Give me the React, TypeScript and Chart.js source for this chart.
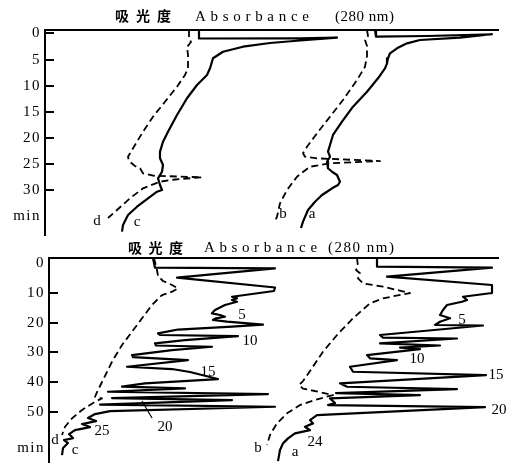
import React, { useEffect, useRef } from 'react';
import { Chart, registerables } from 'chart.js';

Chart.register(...registerables);
Chart.defaults.font.family = '"Liberation Serif", "DejaVu Serif", serif';

// ---------- Upper run (time axis in min, absorbance in arbitrary offset units) ----------
const TOP_TIME_TICKS = [0, 5, 10, 15, 20, 25, 30, 35];
const TOP_UNIT_TICK = 35; // labelled "min"

const TOP_C_ABS = [1.99, 1.99, 3.0, 3.37, 3.0, 2.7, 2.43, 2.23, 2.13, 2.1, 2.07, 1.97, 1.87, 1.77, 1.68, 1.63, 1.6, 1.6, 1.63, 1.62, 1.58, 1.6, 1.62, 1.57, 1.48, 1.37, 1.28, 1.23, 1.22];
const TOP_C_MIN = [-0.67, 0.96, 0.92, 0.8, 1.34, 1.82, 2.53, 3.49, 4.75, 6.67, 7.95, 9.87, 12.41, 15.61, 18.81, 20.73, 22.64, 23.91, 25.19, 26.48, 27.74, 29.02, 29.98, 30.31, 31.57, 33.18, 34.77, 36.69, 37.97];

const TOP_D_ABS = [1.89, 1.89, 1.91, 1.87, 1.88, 1.88, 1.85, 1.77, 1.65, 1.53, 1.43, 1.35, 1.28, 1.29, 1.35, 1.4, 1.43, 1.53, 2.02, 1.75, 1.6, 1.43, 1.3, 1.17, 1.08];
const TOP_D_MIN = [-0.67, 0.86, 1.63, 2.59, 4.12, 6.67, 7.95, 10.19, 13.07, 15.94, 18.81, 21.36, 23.6, 24.43, 25.38, 25.82, 26.78, 27.24, 27.55, 27.97, 28.39, 29.66, 31.57, 33.81, 35.34];

const TOP_A_ABS = [3.75, 3.76, 4.27, 4.92, 4.6, 4.2, 4.07, 3.97, 3.9, 3.88, 3.87, 3.85, 3.78, 3.67, 3.53, 3.42, 3.33, 3.3, 3.28, 3.3, 3.27, 3.28, 3.32, 3.37, 3.4, 3.38, 3.32, 3.27, 3.22, 3.15, 3.08, 3.03, 3.01];
const TOP_A_MIN = [-0.67, 0.61, 0.48, 0.15, 0.8, 1.25, 1.88, 2.84, 3.79, 4.75, 5.71, 6.67, 8.58, 11.15, 14.02, 16.9, 19.44, 21.36, 22.64, 23.6, 24.56, 25.82, 26.48, 27.11, 28.39, 29.02, 29.66, 30.31, 30.94, 32.22, 33.81, 36.05, 37.26];

const TOP_B_ABS = [3.67, 3.68, 3.65, 3.67, 3.67, 3.65, 3.57, 3.43, 3.3, 3.17, 3.07, 3.03, 3.05, 3.17, 3.8, 3.3, 3.1, 2.97, 2.87, 2.8, 2.77, 2.75];
const TOP_B_MIN = [-0.67, 0.48, 1.25, 2.39, 4.31, 6.36, 8.91, 12.74, 15.94, 19.12, 21.69, 22.95, 23.6, 23.91, 24.43, 24.87, 25.52, 27.43, 29.98, 32.53, 35.1, 35.92];

const TOP_LABEL_TEXT = ['d', 'c', 'b', 'a'];
const TOP_LABEL_ABS = [0.97, 1.37, 2.83, 3.12];
const TOP_LABEL_MIN = [35.92, 36.1, 34.58, 34.58];

// ---------- Lower run ----------
const BOT_TIME_TICKS = [0, 10, 20, 30, 40, 50, 62];
const BOT_UNIT_TICK = 62; // labelled "min"

const BOT_C_ABS = [1.53, 1.55, 2.75, 1.77, 2.75, 2.74, 2.32, 2.37, 2.32, 2.37, 2.25, 2.15, 2.12, 2.2, 2.25, 2.16, 2.13, 2.27, 2.63, 2.32, 1.78, 1.58, 1.6, 2.38, 1.85, 1.55, 1.56, 2.12, 1.72, 1.32, 1.33, 1.88, 1.27, 1.72, 1.9, 2.18, 1.45, 1.22, 1.85, 1.08, 2.68, 1.12, 2.32, 1.0, 2.75, 1.1, 0.95, 0.88, 0.96, 0.82, 0.9, 0.75, 0.69, 0.73, 0.64, 0.68, 0.63, 0.62];
const BOT_C_MIN = [-1.75, 1.51, 1.71, 4.87, 8.17, 9.34, 11.26, 11.8, 12.37, 12.94, 14.05, 15.73, 16.84, 17.41, 17.98, 18.52, 19.09, 19.66, 20.61, 21.34, 22.29, 23.56, 24.13, 24.47, 25.82, 26.92, 27.66, 28.07, 29.18, 30.86, 31.53, 32.54, 34.79, 35.56, 36.57, 38.92, 40.37, 41.45, 42.05, 43.19, 43.97, 45.31, 45.98, 47.49, 48.24, 49.68, 50.69, 52.03, 53.04, 54.05, 55.06, 56.07, 57.41, 58.76, 59.43, 60.44, 62.12, 64.47];

const BOT_D_ABS = [1.54, 1.57, 1.58, 1.63, 1.72, 1.78, 1.72, 1.62, 1.52, 1.42, 1.32, 1.22, 1.12, 1.04, 0.97, 0.95, 1.02, 0.95, 0.82, 0.72, 0.65, 0.62];
const BOT_D_MIN = [-1.75, 2.29, 4.3, 5.98, 7.33, 8.44, 9.58, 10.69, 14.05, 18.52, 23.03, 27.5, 33.11, 38.59, 43.29, 44.87, 45.41, 46.55, 49.34, 52.13, 54.96, 57.75];

const BOT_A_ABS = [3.77, 3.77, 4.92, 3.87, 4.92, 4.92, 4.63, 4.67, 4.62, 4.47, 4.43, 4.4, 4.5, 4.4, 4.35, 4.83, 3.8, 3.83, 4.57, 3.8, 4.4, 4.0, 4.2, 3.67, 3.7, 3.97, 3.5, 3.53, 4.86, 3.4, 3.47, 4.57, 3.36, 4.2, 3.3, 3.35, 3.28, 4.85, 3.17, 3.1, 3.13, 3.05, 3.1, 2.95, 2.88, 2.83, 2.8, 2.78];
const BOT_A_MIN = [-1.75, 1.18, 1.5, 4.54, 7.33, 10.02, 11.26, 12.37, 12.94, 14.05, 15.73, 17.41, 18.52, 19.66, 20.77, 20.94, 24.13, 25.0, 25.3, 26.92, 27.66, 28.34, 28.84, 30.86, 31.97, 32.54, 34.79, 36.47, 37.58, 40.37, 41.51, 42.29, 43.63, 44.3, 45.41, 46.99, 47.66, 48.34, 51.03, 52.71, 53.82, 54.96, 56.07, 57.18, 58.86, 60.54, 62.79, 66.49];

const BOT_B_ABS = [3.57, 3.58, 3.56, 3.6, 3.58, 3.63, 3.83, 4.1, 3.83, 3.7, 3.53, 3.37, 3.23, 3.12, 3.03, 2.99, 3.03, 3.18, 3.33, 3.18, 3.0, 2.87, 2.77, 2.7, 2.67];
const BOT_B_MIN = [-1.75, 1.18, 2.29, 3.39, 5.08, 6.76, 7.9, 10.02, 11.8, 13.48, 18.52, 24.13, 29.75, 35.23, 39.6, 40.94, 42.12, 43.19, 44.3, 45.65, 47.66, 50.45, 53.81, 57.75, 61.11];

// leader line from the "20" label to its peak (left run)
const BOT_LEADER_ABS = [1.52, 1.42];
const BOT_LEADER_MIN = [52.03, 46.32];

const BOT_LABEL_TEXT = ['5', '10', '15', '20', '25', 'd', 'c', '5', '10', '15', '20', '24', 'a', 'b'];
const BOT_LABEL_ABS = [2.42, 2.5, 2.08, 1.65, 1.02, 0.55, 0.75, 4.62, 4.17, 4.96, 4.99, 3.15, 2.95, 2.58];
const BOT_LABEL_MIN = [17.41, 26.15, 36.47, 54.96, 56.4, 59.43, 62.79, 19.09, 32.2, 37.58, 49.34, 60.0, 63.36, 62.22];

const TITLE_CN = '吸光度';
const TITLE_EN = 'Absorbance';
const TITLE_NM = '(280 nm)';

const SERIF = '"Liberation Serif", "DejaVu Serif", serif';
const CJK = '"Noto Sans CJK SC", sans-serif';

function trace(abs: number[], mins: number[], dashed: boolean, width: number) {
  return {
    data: abs.map((a, i) => ({ x: a, y: mins[i] })),
    showLine: true,
    borderColor: '#000',
    backgroundColor: '#000',
    borderWidth: width,
    borderDash: dashed ? [7, 4] : [],
    borderJoinStyle: 'round',
    borderCapStyle: 'butt',
    pointRadius: 0,
    pointHoverRadius: 0,
    tension: 0,
    fill: false,
  };
}

type TitlePart = { text: string; x: number; y: number; font: string; spacing: number };

function textPlugin(titles: TitlePart[], texts: string[], abs: number[], mins: number[]) {
  return {
    id: 'panelText',
    beforeDraw(chart: any) {
      chart.ctx.letterSpacing = '1.5px';
    },
    afterDraw(chart: any) {
      const ctx = chart.ctx;
      ctx.save();
      ctx.fillStyle = '#000';
      ctx.textBaseline = 'middle';
      ctx.textAlign = 'left';
      for (const t of titles) {
        ctx.font = t.font;
        ctx.letterSpacing = t.spacing + 'px';
        ctx.fillText(t.text, t.x, t.y);
      }
      ctx.letterSpacing = '0px';
      ctx.textAlign = 'center';
      ctx.font = '15px ' + SERIF;
      const xs = chart.scales.x;
      const ys = chart.scales.y;
      texts.forEach((s, i) => {
        ctx.fillText(s, xs.getPixelForValue(abs[i]), ys.getPixelForValue(mins[i]));
      });
      ctx.restore();
      ctx.letterSpacing = '0px';
    },
  };
}

function makeOptions(p: {
  xMin: number; xMax: number; yMin: number; yMax: number;
  ticks: number[]; unitTick: number; noMark: number[]; axisWidth: number;
  padding: { top: number; right: number; bottom: number; left: number };
}) {
  return {
    animation: false,
    responsive: false,
    events: [],
    layout: { padding: p.padding },
    plugins: { legend: { display: false }, tooltip: { enabled: false }, title: { display: false } },
    scales: {
      x: {
        type: 'linear',
        position: 'top',
        min: p.xMin,
        max: p.xMax,
        ticks: { display: false },
        grid: { display: false, drawTicks: false },
        border: { display: true, color: '#000', width: 2 },
        afterFit: (s: any) => {
          s.height = 0;
          s.paddingLeft = 0;
          s.paddingRight = 0;
          s.paddingTop = 0;
          s.paddingBottom = 0;
        },
      },
      y: {
        type: 'linear',
        position: 'left',
        reverse: true,
        min: p.yMin,
        max: p.yMax,
        afterBuildTicks: (s: any) => { s.ticks = p.ticks.map((v) => ({ value: v })); },
        afterFit: (s: any) => {
          s.width = p.axisWidth;
          s.paddingTop = 0;
          s.paddingBottom = 0;
          s.paddingLeft = 0;
          s.paddingRight = 0;
        },
        ticks: {
          autoSkip: false,
          color: '#000',
          font: { family: SERIF, size: 15 },
          padding: 13,
          callback: (v: any) => (v === p.unitTick ? 'min' : String(v)),
        },
        grid: {
          display: true,
          drawOnChartArea: false,
          drawTicks: true,
          tickLength: -9,
          lineWidth: 2,
          color: (c: any) => (c.tick && p.noMark.includes(c.tick.value) ? 'rgba(0,0,0,0)' : '#000'),
        },
        border: { display: true, color: '#000', width: 2 },
      },
    },
  };
}

function topConfig(): any {
  return {
    type: 'scatter',
    data: {
      datasets: [
        trace(TOP_C_ABS, TOP_C_MIN, false, 2.2),
        trace(TOP_D_ABS, TOP_D_MIN, true, 1.8),
        trace(TOP_A_ABS, TOP_A_MIN, false, 2.2),
        trace(TOP_B_ABS, TOP_B_MIN, true, 1.8),
      ],
    },
    options: makeOptions({
      xMin: 0.45, xMax: 4.98, yMin: -0.67, yMax: 38.6,
      ticks: TOP_TIME_TICKS, unitTick: TOP_UNIT_TICK, noMark: [TOP_UNIT_TICK], axisWidth: 45,
      padding: { top: 30, right: 19, bottom: 5, left: 0 },
    }),
    plugins: [
      textPlugin(
        [
          { text: TITLE_CN, x: 115, y: 16, font: 'bold 14px ' + CJK, spacing: 7 },
          { text: TITLE_EN, x: 195, y: 17, font: '15px ' + SERIF, spacing: 4.7 },
          { text: TITLE_NM, x: 335, y: 17, font: '15px ' + SERIF, spacing: 0.5 },
        ],
        TOP_LABEL_TEXT, TOP_LABEL_ABS, TOP_LABEL_MIN,
      ),
    ],
  };
}

function bottomConfig(): any {
  return {
    type: 'scatter',
    data: {
      datasets: [
        trace(BOT_C_ABS, BOT_C_MIN, false, 2.2),
        trace(BOT_D_ABS, BOT_D_MIN, true, 1.8),
        trace(BOT_A_ABS, BOT_A_MIN, false, 2.2),
        trace(BOT_B_ABS, BOT_B_MIN, true, 1.8),
        trace(BOT_LEADER_ABS, BOT_LEADER_MIN, false, 1.2),
      ],
    },
    options: makeOptions({
      xMin: 0.49, xMax: 4.98, yMin: -1.75, yMax: 66.8,
      ticks: BOT_TIME_TICKS, unitTick: BOT_UNIT_TICK, noMark: [0, BOT_UNIT_TICK], axisWidth: 49,
      padding: { top: 22, right: 19, bottom: 2, left: 0 },
    }),
    plugins: [
      textPlugin(
        [
          { text: TITLE_CN, x: 128, y: 12, font: 'bold 14px ' + CJK, spacing: 6.5 },
          { text: TITLE_EN, x: 204, y: 12, font: '15px ' + SERIF, spacing: 4.6 },
          { text: TITLE_NM, x: 328, y: 12, font: '15px ' + SERIF, spacing: 1.5 },
        ],
        BOT_LABEL_TEXT, BOT_LABEL_ABS, BOT_LABEL_MIN,
      ),
    ],
  };
}

function Panel({ build, top, height }: { build: () => any; top: number; height: number }) {
  const ref = useRef<HTMLCanvasElement>(null);
  useEffect(() => {
    if (!ref.current) return;
    const chart = new Chart(ref.current, build());
    return () => chart.destroy();
  }, []);
  return (
    <canvas
      ref={ref}
      width={517}
      height={height}
      style={{ position: 'absolute', left: 0, top, width: 517, height }}
    />
  );
}

export default function App() {
  return (
    <div style={{ position: 'absolute', left: 0, top: 0, width: 517, height: 464, background: '#fff' }}>
      <Panel build={topConfig} top={0} height={240} />
      <Panel build={bottomConfig} top={236} height={228} />
    </div>
  );
}
